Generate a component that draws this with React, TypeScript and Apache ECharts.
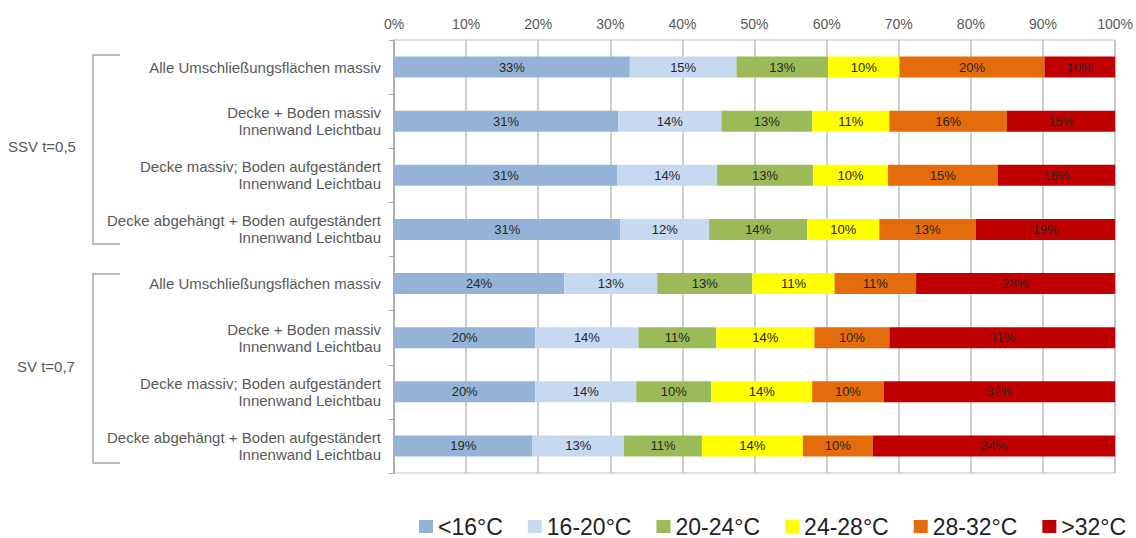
import React, { useEffect, useRef } from "react";
import * as echarts from "echarts";

const categories = [
  "Alle Umschließungsflächen massiv",
  "Decke + Boden massiv\nInnenwand Leichtbau",
  "Decke massiv; Boden aufgeständert\nInnenwand Leichtbau",
  "Decke abgehängt + Boden aufgeständert\nInnenwand Leichtbau",
  "Alle Umschließungsflächen massiv ",
  "Decke + Boden massiv\nInnenwand Leichtbau ",
  "Decke massiv; Boden aufgeständert\nInnenwand Leichtbau ",
  "Decke abgehängt + Boden aufgeständert\nInnenwand Leichtbau ",
];
const groupLabels = ["SSV t=0,5", "SV t=0,7"];
const seriesNames = ["<16°C", "16-20°C", "20-24°C", "24-28°C", "28-32°C", ">32°C"];
const seriesColors = ["#95B3D7", "#C6D9F1", "#9BBB59", "#FFFF00", "#E46C0A", "#C00000"];

const lt16 = [32.7, 31.1, 31.0, 31.4, 23.6, 19.6, 19.6, 19.2];
const t16to20 = [14.8, 14.3, 13.8, 12.3, 12.9, 14.3, 14.0, 12.7];
const t20to24 = [12.7, 12.6, 13.3, 13.6, 13.2, 10.8, 10.4, 10.8];
const t24to28 = [9.9, 10.7, 10.4, 10.0, 11.4, 13.6, 14.0, 14.0];
const t28to32 = [20.1, 16.3, 15.2, 13.4, 11.3, 10.4, 9.9, 9.7];
const gt32 = [9.8, 15.0, 16.3, 19.3, 27.6, 31.3, 32.1, 33.6];

const xTicks = { min: 0, max: 100, interval: 10 };

const FONT = "'Liberation Sans', Arial, sans-serif";

export default function App() {
  const ref = useRef<HTMLDivElement>(null);
  useEffect(() => {
    if (!ref.current) return;
    const chart = echarts.init(ref.current, undefined, { renderer: "svg" });
    const allData = [lt16, t16to20, t20to24, t24to28, t28to32, gt32];
    const gridLeft = 394;
    const gridTop = 40;
    const gridBottomPx = 473;
    const bracketColor = "#A6A6A6";
    chart.setOption({
      animation: false,
      textStyle: { fontFamily: FONT },
      grid: {
        left: gridLeft,
        right: 19,
        top: gridTop,
        bottom: 538 - gridBottomPx,
        containLabel: false,
        show: true,
        borderColor: "#BFBFBF",
        borderWidth: 1,
      },
      legend: {
        data: seriesNames,
        left: 419,
        top: 515,
        width: 716,
        padding: 0,
        itemWidth: 14,
        itemHeight: 13,
        itemGap: 25,
        icon: "rect",
        textStyle: { fontSize: 23, color: "#222", fontFamily: FONT },
      },
      xAxis: {
        type: "value",
        position: "top",
        min: xTicks.min,
        max: xTicks.max,
        interval: xTicks.interval,
        axisLine: { show: false },
        axisTick: { show: false },
        axisLabel: {
          formatter: "{value}%",
          color: "#595959",
          fontSize: 14,
          margin: 9,
          fontFamily: FONT,
        },
        splitLine: { show: true, lineStyle: { color: "#BFBFBF", width: 1.5 } },
      },
      yAxis: {
        type: "category",
        inverse: true,
        data: categories,
        axisLine: { show: true, lineStyle: { color: "#A6A6A6", width: 1.5 } },
        axisTick: { show: true, length: 5, lineStyle: { color: "#A6A6A6" } },
        axisLabel: {
          color: "#595959",
          fontSize: 15,
          lineHeight: 17,
          margin: 13,
          align: "right",
          fontFamily: FONT,
          formatter: (v: string) => v.replace(/ +$/, ""),
        },
        splitLine: { show: false },
      },
      series: seriesNames.map((name, i) => ({
        name,
        type: "bar",
        stack: "total",
        barWidth: 21,
        data: allData[i],
        itemStyle: { color: seriesColors[i] },
        label: {
          show: true,
          position: "inside",
          color: "#262626",
          fontSize: 13,
          fontFamily: FONT,
          formatter: (p: any) => Math.round(p.value) + "%",
        },
      })),
      graphic: [
        {
          type: "polyline",
          shape: { points: [[120, 55], [93, 55], [93, 244], [120, 244]] },
          style: { stroke: bracketColor, lineWidth: 1.5, fill: "none" },
        },
        {
          type: "polyline",
          shape: { points: [[120, 274], [93, 274], [93, 463], [120, 463]] },
          style: { stroke: bracketColor, lineWidth: 1.5, fill: "none" },
        },
        {
          type: "text",
          x: 8,
          y: 146,
          style: {
            text: groupLabels[0],
            fill: "#595959",
            fontSize: 15,
            fontFamily: FONT,
            verticalAlign: "middle",
          },
        },
        {
          type: "text",
          x: 17,
          y: 366,
          style: {
            text: groupLabels[1],
            fill: "#595959",
            fontSize: 15,
            fontFamily: FONT,
            verticalAlign: "middle",
          },
        },
      ],
    });
    return () => chart.dispose();
  }, []);
  return (
    <div
      ref={ref}
      style={{ position: "absolute", left: 0, top: 0, width: 1136, height: 538 }}
    />
  );
}
